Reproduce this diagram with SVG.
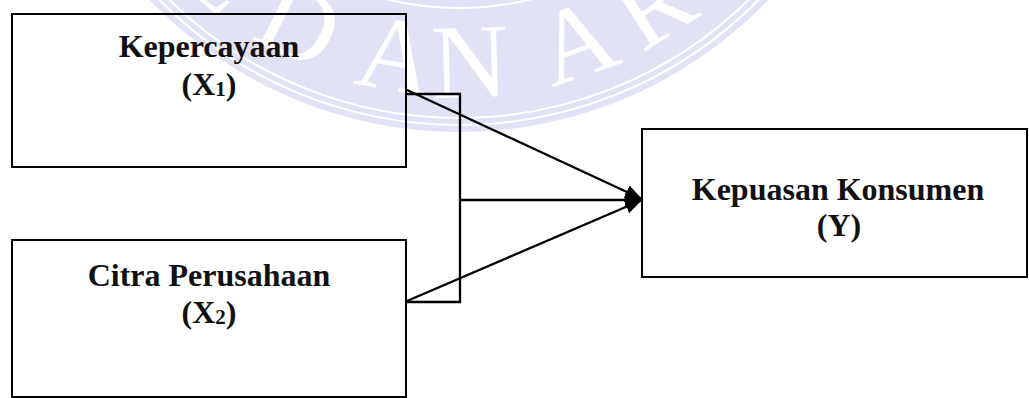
<svg xmlns="http://www.w3.org/2000/svg" width="1029" height="398" viewBox="0 0 1029 398">
  <style>
    .box { fill: none; stroke: #000; stroke-width: 2; }
    .lbl { font-family: "Liberation Serif", "Times New Roman", serif; font-weight: bold; font-size: 32px; fill: #111; text-anchor: middle; }
    .sub { font-size: 21px; }
    .conn { fill: none; stroke: #000; stroke-width: 2.3; }
    .wm { font-family: "Liberation Serif", "Times New Roman", serif; font-size: 106px; fill: #fff; text-anchor: middle; }
    .wmline { fill: none; stroke: #fff; stroke-width: 2; }
  </style>
  <defs>
    <marker id="arrow" markerUnits="userSpaceOnUse" markerWidth="17" markerHeight="14" viewBox="0 0 17 14" refX="17" refY="7" orient="auto">
      <path d="M0,0 L17,7 L0,14 z" fill="#000"/>
    </marker>
  </defs>
  <rect width="1029" height="398" fill="#fff"/>

  <g id="watermark">
    <circle cx="459" cy="-296" r="428" fill="#e2e2f6"/>
    <circle class="wmline" cx="459" cy="-296" r="414"/>
    <circle class="wmline" cx="459" cy="-296" r="421"/>
    <circle class="wmline" cx="459" cy="-296" r="304"/>
    <text class="wm" transform="translate(197,-2) rotate(41.5)">E</text>
    <text class="wm" transform="translate(284,55) rotate(26.5)">D</text>
    <text class="wm" transform="translate(390,90) rotate(10)">A</text>
    <text class="wm" transform="translate(471,97) rotate(-1.7)">N</text>
    <text class="wm" transform="translate(588,75) rotate(-19.2)">A</text>
    <text class="wm" transform="translate(672,34) rotate(-32.8)">R</text>
  </g>

  <g id="node-x1">
    <rect class="box" x="12" y="14" width="394" height="153"/>
    <text class="lbl" x="209" y="57">Kepercayaan</text>
    <text class="lbl" x="209" y="95">(X<tspan class="sub" dy="1">1</tspan><tspan dy="-1">)</tspan></text>
  </g>

  <g id="node-x2">
    <rect class="box" x="12" y="240" width="394" height="157"/>
    <text class="lbl" x="209" y="286">Citra Perusahaan</text>
    <text class="lbl" x="209" y="323">(X<tspan class="sub" dy="1">2</tspan><tspan dy="-1">)</tspan></text>
  </g>

  <g id="node-y">
    <rect class="box" x="642" y="129" width="385" height="148"/>
    <text class="lbl" x="838" y="200">Kepuasan Konsumen</text>
    <text class="lbl" x="839" y="236">(Y)</text>
  </g>

  <g id="connectors">
    <polyline class="conn" points="406,94 460,94 460,302 406,302"/>
    <line class="conn" x1="407" y1="90" x2="642" y2="199" marker-end="url(#arrow)"/>
    <line class="conn" x1="460" y1="200" x2="642" y2="200" marker-end="url(#arrow)"/>
    <line class="conn" x1="407" y1="301" x2="642" y2="200" marker-end="url(#arrow)"/>
  </g>
</svg>
